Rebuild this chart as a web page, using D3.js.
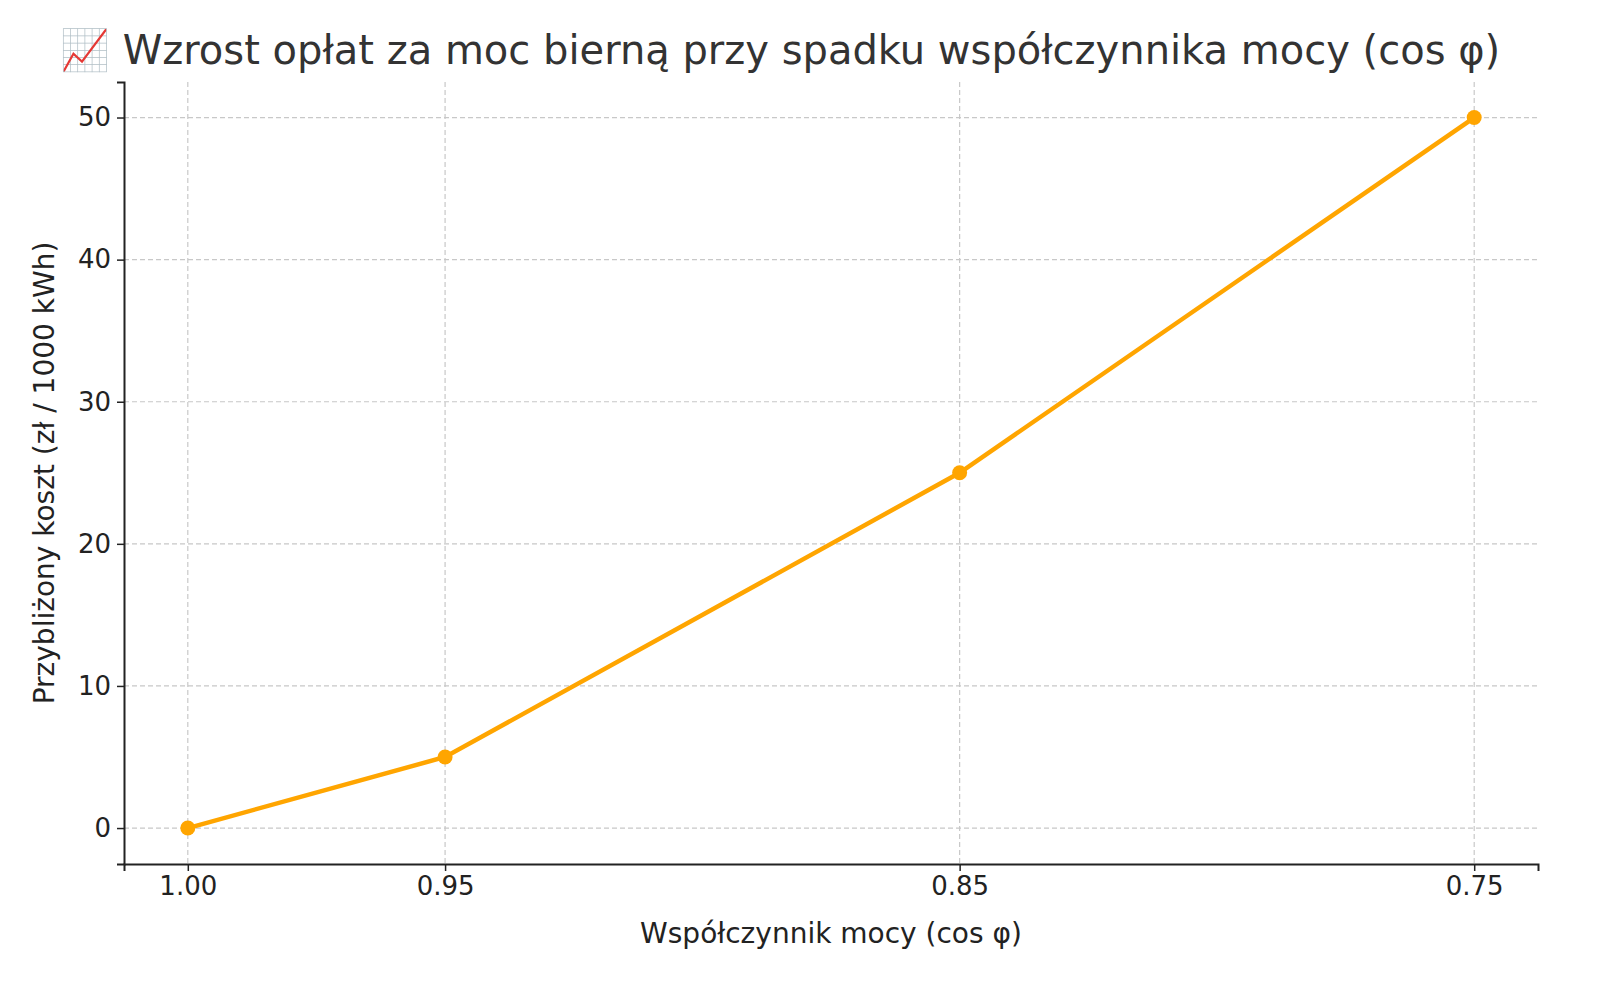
<!DOCTYPE html>
<html><head><meta charset="utf-8">
<script src="https://cdn.jsdelivr.net/npm/d3@7"></script>
<style>body{margin:0;background:#fff}</style>
</head><body>
<svg id="chart"></svg>
<script>
const cosPhi = [1.00, 0.95, 0.85, 0.75];
const cost = [0, 5, 25, 50];
const xTicks = [1.00, 0.95, 0.85, 0.75];
const yTicks = [0, 10, 20, 30, 40, 50];

const width = 1600, height = 1000;
const mLeft = 124, mRight = 1538, mTop = 82, mBottom = 864;
const font = "DejaVu Sans, sans-serif";

const svg = d3.select("#chart").attr("width", width).attr("height", height);

const x = d3.scaleLinear().domain([1.0124, 0.7376]).range([mLeft, mRight]);
const y = d3.scaleLinear().domain([-2.53, 52.5]).range([mBottom, mTop]);

// grid
svg.append("g").selectAll("line").data(yTicks).join("line")
  .attr("x1", mLeft).attr("x2", mRight)
  .attr("y1", d => y(d)).attr("y2", d => y(d))
  .style("stroke", "#c8c8c8").style("stroke-dasharray", "5,3").style("stroke-width", 1.2);
svg.append("g").selectAll("line").data(xTicks).join("line")
  .attr("y1", mTop).attr("y2", mBottom)
  .attr("x1", d => x(d)).attr("x2", d => x(d))
  .style("stroke", "#c8c8c8").style("stroke-dasharray", "5,3").style("stroke-width", 1.2);

// axes
const xa = svg.append("g").attr("transform", `translate(0,${mBottom})`)
  .call(d3.axisBottom(x).tickValues(xTicks).tickFormat(d3.format(".2f")).tickSizeOuter(0).tickSize(7).tickPadding(6));
const ya = svg.append("g").attr("transform", `translate(${mLeft},0)`)
  .call(d3.axisLeft(y).tickValues(yTicks).tickSizeOuter(0).tickSize(7).tickPadding(6));
[xa, ya].forEach(a => {
  a.select(".domain").style("stroke", "#222").style("stroke-width", 2);
  a.selectAll(".tick line").style("stroke", "#222").style("stroke-width", 1.5);
  a.selectAll("text").style("font-family", font).style("font-size", "26px").style("fill", "#222");
});

// line
const pts = cosPhi.map((c, i) => [c, cost[i]]);
svg.append("path").datum(pts)
  .attr("d", d3.line().x(d => x(d[0])).y(d => y(d[1])))
  .style("fill", "none").style("stroke", "#FFA500").style("stroke-width", 4.5);
svg.append("g").selectAll("circle").data(pts).join("circle")
  .attr("cx", d => x(d[0])).attr("cy", d => y(d[1])).attr("r", 7.5)
  .style("fill", "#FFA500");

// labels
svg.append("text").attr("x", 60).attr("y", 64)
  .style("font-family", font).style("font-size", "40px").style("fill", "#333")
  .text("📈 Wzrost opłat za moc bierną przy spadku współczynnika mocy (cos φ)");
svg.append("text").attr("x", (mLeft + mRight) / 2).attr("y", 943).attr("text-anchor", "middle")
  .style("font-family", font).style("font-size", "28px").style("fill", "#222")
  .text("Współczynnik mocy (cos φ)");
svg.append("text").attr("transform", `translate(54,${(mTop + mBottom) / 2}) rotate(-90)`)
  .attr("text-anchor", "middle")
  .style("font-family", font).style("font-size", "28px").style("fill", "#222")
  .text("Przybliżony koszt (zł / 1000 kWh)");
</script>
</body></html>
